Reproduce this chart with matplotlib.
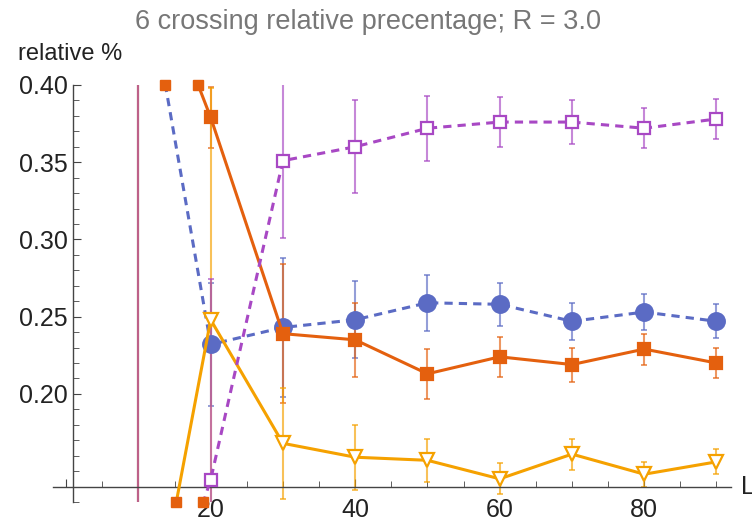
import matplotlib.pyplot as plt
import numpy as np

plt.rcParams['font.family'] = ['Liberation Sans', 'DejaVu Sans']

# system size
L = [10, 20, 30, 40, 50, 60, 70, 80, 90]

blue_val = [0.50, 0.232, 0.243, 0.248, 0.259, 0.258, 0.247, 0.253, 0.247]
blue_err = [0.45, 0.040, 0.045, 0.025, 0.018, 0.014, 0.012, 0.0115, 0.011]

orange_val = [0.50, 0.379, 0.239, 0.235, 0.213, 0.224, 0.219, 0.229, 0.220]
orange_err = [0.45, 0.020, 0.045, 0.024, 0.016, 0.013, 0.011, 0.010, 0.010]

yellow_val = [0.0, 0.248, 0.168, 0.159, 0.157, 0.145, 0.161, 0.148, 0.156]
yellow_err = [0.45, 0.150, 0.036, 0.021, 0.014, 0.010, 0.010, 0.008, 0.008]

purple_val = [0.0, 0.1445, 0.351, 0.360, 0.372, 0.376, 0.376, 0.372, 0.378]
purple_err = [0.45, 0.130, 0.050, 0.030, 0.021, 0.016, 0.0145, 0.013, 0.013]

x_major = [0, 20, 40, 60, 80]
x_labels = ['', '20', '40', '60', '80']
y_major = [0.20, 0.25, 0.30, 0.35, 0.40]
y_labels = ['0.20', '0.25', '0.30', '0.35', '0.40']

XLIM = (-1.8, 92)
YLIM = (0.13, 0.40)

BLUE = '#5b6bc4'
ORANGE = '#e4600e'
YELLOW = '#f5a100'
PURPLE = '#a848c4'


def main():
    fig = plt.figure(figsize=(7.52, 5.17), dpi=100)
    ax = fig.add_axes([0.0707, 0.029, 0.9013, 0.8066])

    series = [
        (blue_val, blue_err, BLUE, 'o', BLUE, 12, (0, (2.7, 2.0))),
        (orange_val, orange_err, ORANGE, 's', ORANGE, 8, '-'),
        (yellow_val, yellow_err, YELLOW, 'v', 'white', 10, '-'),
        (purple_val, purple_err, PURPLE, 's', 'white', 8, (0, (2.7, 2.0))),
    ]

    for val, err, col, mk, face, ms, ls in series:
        ax.errorbar(L, val, yerr=err, fmt='none', ecolor=col, alpha=0.65,
                    elinewidth=1.5, capsize=2.5, capthick=1.4, zorder=2)
    for val, err, col, mk, face, ms, ls in series:
        ax.plot(L, val, color=col, lw=2.2, ls=ls, marker=mk, ms=ms,
                mfc=face, mec=col, mew=1.6, zorder=3)

    # mark where lines leave the plot range
    lo, hi = YLIM
    for val, err, col, mk, face, ms, ls in series:
        for i in range(len(L) - 1):
            y0, y1 = val[i], val[i + 1]
            for edge in (lo, hi):
                if (y0 - edge) * (y1 - edge) < 0:
                    t = (edge - y0) / (y1 - y0)
                    xc = L[i] + t * (L[i + 1] - L[i])
                    ax.plot([xc], [edge], 's', color=ORANGE, ms=6.5,
                            clip_on=False, zorder=4)

    ax.set_xlim(*XLIM)
    ax.set_ylim(*YLIM)

    for s in ('top', 'right'):
        ax.spines[s].set_visible(False)
    ax.spines['left'].set_position(('data', 1))
    ax.spines['bottom'].set_position(('data', 0.14))
    for s in ('left', 'bottom'):
        ax.spines[s].set_color('#444444')
        ax.spines[s].set_linewidth(1.0)

    ax.set_xticks(x_major)
    ax.set_xticklabels(x_labels)
    ax.set_xticks(np.arange(5, 95, 5), minor=True)
    ax.set_yticks(y_major)
    ax.set_yticklabels(y_labels)
    ax.set_yticks(np.arange(0.13, 0.405, 0.01), minor=True)

    ax.tick_params(axis='both', which='both', direction='in', color='#444444',
                   labelsize=18, labelcolor='#222222')
    ax.tick_params(axis='x', which='major', length=6, pad=8)
    ax.tick_params(axis='x', which='minor', length=4)
    ax.tick_params(axis='y', which='major', length=6, pad=4)
    ax.tick_params(axis='y', which='minor', length=4)

    fig.text(0.489, 0.957, '6 crossing relative precentage; R = 3.0',
             ha='center', va='center', fontsize=19.5, color='#777777')
    fig.text(0.024, 0.875, 'relative %', ha='left', va='bottom',
             fontsize=17, color='#222222')
    fig.text(0.985, 0.058, 'L', ha='left', va='center', fontsize=18,
             color='#222222')

    plt.savefig('out.png', dpi=100)


if __name__ == "__main__":
    main()
